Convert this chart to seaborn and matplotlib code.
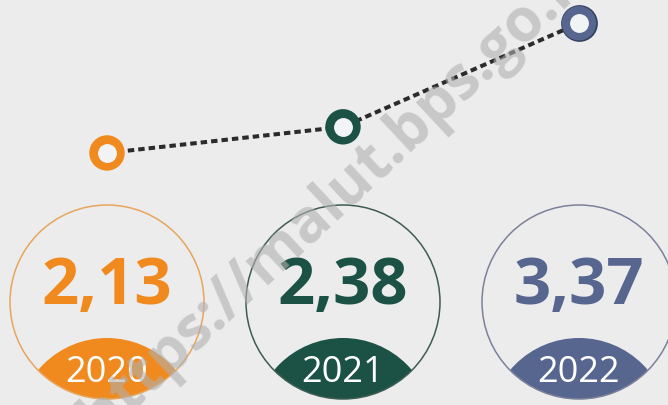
import matplotlib
matplotlib.use("Agg")
import matplotlib.pyplot as plt
from matplotlib.patches import Circle
import seaborn as sns
import pandas as pd

# ---- data ----
years = ["2020", "2021", "2022"]
values = [2.13, 2.38, 3.37]
value_labels = [f"{v:.2f}".replace(".", ",") for v in values]
main_colors = ["#F08A1E", "#1B5245", "#56668F"]
ring_outline = ["#E8A55C", "#3E5C52", "#7C8199"]
watermark = "https://malut.bps.go.id"

BG = "#ECECEC"
W, H = 668, 405
PX = 236.0  # px per category unit

sns.set_theme(style="white")
plt.rcParams["font.family"] = ["Open Sans", "DejaVu Sans"]

fig = plt.figure(figsize=(W / 100, H / 100), dpi=100, facecolor=BG)

xlim = (-107 / PX, (W - 107) / PX)
idx = list(range(len(years)))

# ---- circles axis (equal units) ----
axc = fig.add_axes([0, 0, 1, 1])
axc.set_xlim(*xlim)
axc.set_ylim(0, H / PX)
axc.axis("off")
axc.set_facecolor(BG)

cy = (H - 302) / PX
r = 97 / PX
cap_cy = (H - 428) / PX
cap_r = 90 / PX
for i, (yr, lab, col, oc) in enumerate(zip(years, value_labels, main_colors, ring_outline)):
    clip = Circle((i, cy), r, transform=axc.transData)
    cap = Circle((i, cap_cy), cap_r, facecolor=col, edgecolor="none", zorder=2)
    axc.add_patch(cap)
    cap.set_clip_path(clip)
    axc.add_patch(Circle((i, cy), r, facecolor="none", edgecolor=oc, lw=1.1, zorder=3))
    axc.text(i, (H - 288) / PX, lab, color=col, fontsize=47, fontweight="bold",
             ha="center", va="center", zorder=4)
    axc.text(i, (H - 373) / PX, yr, color="white", fontsize=26,
             ha="center", va="center", zorder=4)

# ---- line axis ----
axl = fig.add_axes([0, 0, 1, 1])
axl.patch.set_alpha(0)
axl.set_xlim(*xlim)
axl.set_ylim(-0.2796, 3.5923)
axl.axis("off")

df = pd.DataFrame({"x": idx, "value": values, "year": years})
sns.lineplot(data=df, x="x", y="value", ax=axl, color="#2b2b2b", lw=2.9,
             linestyle=(0, (1.6, 1.0)), zorder=2)
# dark outline for the 2022 marker
sns.scatterplot(data=df.iloc[[2]], x="x", y="value", ax=axl, color="#34405f",
                s=700, linewidth=0, zorder=3, legend=False)
sns.scatterplot(data=df, x="x", y="value", hue="year", palette=main_colors, ax=axl,
                s=[650, 650, 610], linewidth=0, zorder=4, legend=False)
sns.scatterplot(data=df, x="x", y="value", ax=axl, color="#F2F3F5",
                s=185, linewidth=0, zorder=5, legend=False)
axl.set_xlim(*xlim)
axl.set_ylim(-0.2796, 3.5923)

# ---- watermark ----
fig.text(340 / W, 1 - 193 / H, watermark, rotation=43, rotation_mode="anchor",
         ha="center", va="center", fontsize=43, fontweight="bold",
         color="#b0b0b0", alpha=0.6, zorder=10)

fig.savefig("out.png", dpi=100, facecolor=BG)
